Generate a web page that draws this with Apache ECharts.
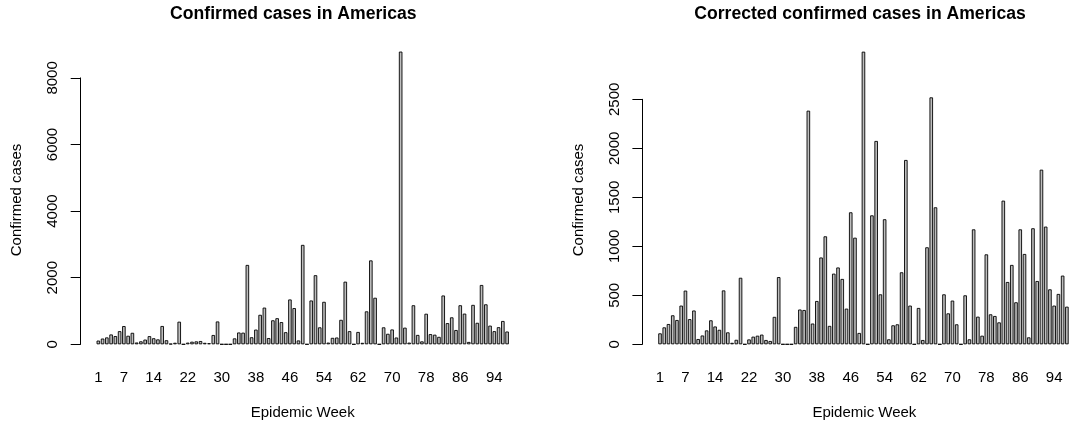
<!DOCTYPE html>
<html>
<head>
<meta charset="utf-8">
<script src="https://cdn.jsdelivr.net/npm/echarts@6/dist/echarts.min.js"></script>
<style>
html,body{margin:0;padding:0;background:#fff;}
#chart{width:1069px;height:425px;}
</style>
</head>
<body>
<div id="chart"></div>
<script>
// ---- data ----
const weeks = ['1','2','3','4','5','6','7','8','9','10','11','12','13','14','15','16','17','18','19','20',
  '21','22','23','24','25','26','27','28','29','30','31','32','33','34','35','36','37','38','39','40',
  '41','42','43','44','45','46','47','48','49','50','51','52','53','54','55','56','57','58','59','60',
  '61','62','63','64','65','66','67','68','69','70','71','72','73','74','75','76','77','78','79','80',
  '81','82','83','84','85','86','87','88','89','90','91','92','93','94','95','96','97'];

const confirmed = [112,173,207,296,248,395,548,257,345,54,
  90,142,245,182,148,550,122,15,46,679,
  0,50,78,88,99,44,34,280,686,0,
  0,0,178,355,350,2384,212,442,886,1102,
  188,721,784,667,364,1347,1088,116,2986,0,
  1316,2075,510,1276,51,194,204,735,1881,395,
  0,371,44,990,2520,1398,0,510,316,446,
  204,8790,500,51,1173,282,88,918,306,289,
  224,1466,636,810,429,1173,922,71,1184,646,
  1782,1201,561,395,514,701,384];

const corrected = [112,173,207,296,248,395,548,257,345,54,
  90,142,245,182,148,550,122,15,46,679,
  0,50,78,88,99,44,34,280,686,0,
  0,0,178,355,350,2384,212,442,886,1102,
  188,721,784,667,364,1347,1088,116,2986,0,
  1316,2075,510,1276,51,194,204,735,1881,395,
  0,371,44,990,2520,1398,0,510,316,446,
  204,0,500,51,1173,282,88,918,306,289,
  224,1466,636,810,429,1173,922,71,1184,646,
  1782,1201,561,395,514,701,384];

const xTickLabels = ['1','7','14','22','30','38','46','54','62','70','78','86','94'];

const titles = ['Confirmed cases in Americas', 'Corrected confirmed cases in Americas'];
const xName = 'Epidemic Week';
const yName = 'Confirmed cases';

// ---- layout ----
const FONT = '"Liberation Sans", Arial, Helvetica, sans-serif';
const SHIFT = 561.7;
const PITCH = 4.258;
const BASE_Y = 344.3;
const GRID_LEFT = 96.2;
const GRID_W = weeks.length * PITCH;
const panels = [
  {top: 77.9, max: 8000, interval: 2000, data: confirmed, titleX: 293.3},
  {top: 99.3, max: 2500, interval: 500, data: corrected, titleX: 860}
];

const grid = [], xAxis = [], yAxis = [], series = [], graphic = [];
panels.forEach((p, i) => {
  grid.push({left: GRID_LEFT + i * SHIFT, top: p.top, width: GRID_W, height: BASE_Y - p.top, containLabel: false});
  xAxis.push({
    type: 'category', gridIndex: i, data: weeks, boundaryGap: true,
    axisLine: {show: false}, axisTick: {show: false}, splitLine: {show: false},
    axisLabel: {
      interval: (idx, val) => xTickLabels.includes(val),
      margin: 26, fontSize: 15, color: '#000', fontFamily: FONT
    }
  });
  yAxis.push({
    type: 'value', gridIndex: i, min: 0, max: p.max, interval: p.interval, offset: 15.5,
    axisLine: {show: true, lineStyle: {color: '#000', width: 1}},
    axisTick: {show: true, length: 10, lineStyle: {color: '#000', width: 1}},
    splitLine: {show: false},
    axisLabel: {rotate: 90, margin: 20, fontSize: 15, color: '#000', fontFamily: FONT,
      formatter: v => String(v)}
  });
  series.push({
    type: 'bar', xAxisIndex: i, yAxisIndex: i, data: p.data, clip: false,
    barWidth: 3.55,
    itemStyle: {color: '#BEBEBE', borderColor: '#000', borderWidth: 0.9},
    emphasis: {disabled: true}
  });
  graphic.push({
    type: 'text', x: p.titleX, y: 14,
    style: {text: titles[i], fill: '#000', font: 'bold 17.6px ' + FONT,
      textAlign: 'center', textVerticalAlign: 'middle'}
  });
  graphic.push({
    type: 'text', x: 302.7 + i * SHIFT, y: 413,
    style: {text: xName, fill: '#000', font: '15px ' + FONT,
      textAlign: 'center', textVerticalAlign: 'middle'}
  });
  graphic.push({
    type: 'text', x: 16.7 + i * SHIFT, y: 200, rotation: Math.PI / 2,
    style: {text: yName, fill: '#000', font: '15px ' + FONT,
      textAlign: 'center', textVerticalAlign: 'middle'}
  });
});

const chart = echarts.init(document.getElementById('chart'), null, {renderer: 'canvas'});
chart.setOption({
  animation: false,
  backgroundColor: '#fff',
  grid, xAxis, yAxis, series, graphic
});
</script>
</body>
</html>
